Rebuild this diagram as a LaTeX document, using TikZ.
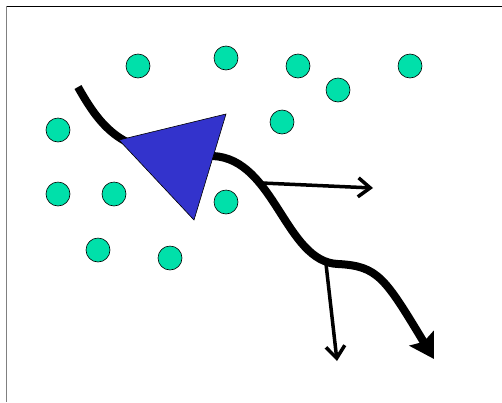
\documentclass[tikz,border=0pt]{standalone}
\usetikzlibrary{arrows.meta}
\definecolor{dotgreen}{RGB}{0,224,170}
\definecolor{triblue}{RGB}{51,51,204}
\tikzset{
  dot/.style={circle,draw=black,line width=0.6pt,fill=dotgreen,minimum size=24pt,inner sep=0pt},
  thinarrow/.style={line width=3.5pt,-{Straight Barb[length=12pt,width=19pt]}},
  thickpath/.style={line width=8pt}
}
\begin{document}
\begin{tikzpicture}[x=1pt,y=-1pt]
\useasboundingbox (0,0) rectangle (502,402);
% frame
\draw[black,line width=1pt] (6,6) -- (502,6);
\draw[gray,line width=1pt] (6,6) -- (6,402);
% dots
\node[dot] (d1) at (138,66) {};
\node[dot] (d2) at (226,58) {};
\node[dot] (d3) at (298,66) {};
\node[dot] (d4) at (338,90) {};
\node[dot] (d5) at (410,66) {};
\node[dot] (d6) at (58,130) {};
\node[dot] (d7) at (282,122) {};
\node[dot] (d8) at (58,194) {};
\node[dot] (d9) at (114,194) {};
\node[dot] (d10) at (226,202) {};
\node[dot] (d11) at (98,250) {};
\node[dot] (d12) at (170,258) {};
% thick path
\coordinate (s) at (78,87);
\coordinate (v) at (125,141);
\coordinate (m) at (213,156);
\coordinate (k) at (338,264);
\coordinate (t) at (434,359);
\coordinate (j1) at (262,183);
\coordinate (j2) at (326,264);
\coordinate (e1) at (373,188);
\coordinate (e2) at (337,361);
\draw[thickpath,-{Stealth[length=24pt,width=28pt,inset=4pt]}]
  (s) .. controls (92,112) and (105,130) .. (v)
      .. controls (150,152) and (180,152) .. (m)
      .. controls (275,159) and (285,262) .. (k)
      .. controls (378,266) and (385,278) .. (t);
% thin arrows
\draw[thinarrow] (j1) -- (e1);
\draw[thinarrow] (j2) -- (e2);
% triangle
\draw[fill=triblue,line width=0.6pt] (119,140) -- (226,114) -- (194,220) -- cycle;
\end{tikzpicture}
\end{document}
